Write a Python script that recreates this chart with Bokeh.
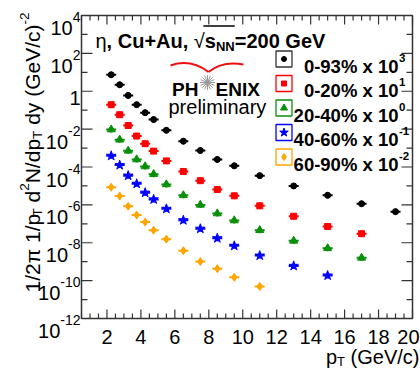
import math
from bokeh.plotting import figure
from bokeh.models import Label, Range1d
from bokeh.embed import file_html
from bokeh.resources import INLINE

# ---------------- data ----------------
pt_0_93 = [2.25, 2.75, 3.25, 3.75, 4.25, 4.75, 5.5, 6.5, 7.5, 8.5, 9.5, 11, 13, 15, 17, 19]
y_0_93 = [7.4, 2.2, 0.60, 0.195, 0.074, 0.032, 8.7e-3, 2.3e-3, 7.4e-4, 2.5e-4,
          1.15e-4, 3.5e-5, 1.0e-5, 3.2e-6, 1.15e-6, 4.4e-7]

pt_0_20 = [2.25, 2.75, 3.25, 3.75, 4.25, 4.75, 5.5, 6.5, 7.5, 8.5, 9.5, 11, 13, 15, 17]
y_0_20 = [0.195, 0.0575, 0.0155, 4.3e-3, 1.7e-3, 6.9e-4, 2.1e-4, 5.8e-5, 1.9e-5,
          6.5e-6, 3.0e-6, 8.9e-7, 2.5e-7, 7.2e-8, 3.0e-8]

pt_20_40 = [2.25, 2.75, 3.25, 3.75, 4.25, 4.75, 5.5, 6.5, 7.5, 8.5, 9.5, 11, 13, 15, 17]
y_20_40 = [9.5e-3, 2.75e-3, 7.2e-4, 2.5e-4, 1.07e-4, 4.2e-5, 1.2e-5, 3.2e-6, 1.0e-6,
           3.5e-7, 1.5e-7, 4.6e-8, 1.26e-8, 5.1e-9, 1.6e-9]

pt_40_60 = [2.25, 2.75, 3.25, 3.75, 4.25, 4.75, 5.5, 6.5, 7.5, 8.5, 9.5, 11, 13, 15]
y_40_60 = [3.9e-4, 1.26e-4, 3.5e-5, 1.3e-5, 4.4e-6, 1.95e-6, 6.2e-7, 1.55e-7, 5.5e-8,
           1.74e-8, 6.9e-9, 2.1e-9, 6.0e-10, 1.86e-10]

pt_60_90 = [2.25, 2.75, 3.25, 3.75, 4.25, 4.75, 5.5, 6.5, 7.5, 8.5, 9.5, 11]
y_60_90 = [8.5e-6, 2.9e-6, 8.5e-7, 2.9e-7, 1.23e-7, 4.6e-8, 1.55e-8, 3.8e-9, 1.02e-9,
           4.3e-10, 1.5e-10, 4.9e-11]

legend_names = ["0-93% x 10", "0-20% x 10", "20-40% x 10", "40-60% x 10", "60-90% x 10"]
legend_exps = ["3", "1", "0", "-1", "-2"]

x_major_ticks = [2, 4, 6, 8, 10, 12, 14, 16, 18, 20]
x_minor_ticks = [0.5 * i for i in range(1, 41) if i % 4 != 0]
y_major_exps = [4, 2, 0, -2, -4, -6, -8, -10, -12]
y_minor_exps = [3, 1, -1, -3, -5, -7, -9, -11]

# ---------------- styling ----------------
series = [
    (pt_0_93, y_0_93, "black", "circle", 6),
    (pt_0_20, y_0_20, "#ff0000", "square", 6),
    (pt_20_40, y_20_40, "#0a8f0a", "triangle", 8),
    (pt_40_60, y_40_60, "#0000ff", "star", 10),
    (pt_60_90, y_60_90, "#ffa500", "diamond", 8),
]
box_colors = ["#333333", "#ff0000", "#0a8f0a", "#0000ff", "#ffa500"]
FONT = "Liberation Sans"
AX = "#333333"

W, H = 420, 368
X0, X1 = 0.5, 20.0          # visible x axis range
E0, E1 = -12, 4             # visible y axis range (log10)
FL, FR, FT, FB = 81.0, 412.0, 15.0, 318.0   # axis box in canvas pixels


def dx(px):
    return X0 + (px - FL) * (X1 - X0) / (FR - FL)


def dy(py):
    return 10 ** (E1 - (py - FT) * (E1 - E0) / (FB - FT))


REG = {' ': 278, '(': 333, ')': 333, '/': 278, '-': 333, 'G': 778, 'N': 722, 'T': 611,
       'V': 667, 'c': 500, 'd': 556, 'e': 556, 'p': 556, 'y': 500, 'π': 560, 'η': 556,
       '√': 549, 'r': 333, 'l': 222, 'i': 222, 'm': 833, 'n': 556, 'a': 556, 'x': 500,
       '%': 889, '=': 584, ',': 278}
BOLD = {' ': 278, ',': 278, 'C': 722, 'u': 611, '+': 584, 'A': 722, 's': 556, 'N': 722,
        '=': 584, 'G': 778, 'e': 556, 'V': 667, '%': 889, 'x': 556, '-': 333, 'P': 667,
        'H': 722, 'E': 667, 'I': 278, 'X': 667}


def tw(text, size, style="normal"):
    tab = BOLD if style == "bold" else REG
    return sum(tab.get(ch, 556) for ch in text) * size / 1000.0


# frame covers the whole canvas so that every text can be drawn without clipping
p = figure(width=W, height=H, x_range=Range1d(dx(0), dx(W)),
           y_range=Range1d(dy(H), dy(0)), y_axis_type="log",
           x_axis_location=None, y_axis_location=None,
           output_backend="svg", toolbar_location=None,
           min_border_left=0, min_border_right=0, min_border_top=0,
           min_border_bottom=0)
p.xgrid.visible = False
p.ygrid.visible = False
p.outline_line_color = None
p.background_fill_color = "white"
p.border_fill_color = "white"

YB, YT = 10.0 ** E0, 10.0 ** E1

# ---------------- axis box and ticks ----------------
p.quad(left=[X0], right=[X1], bottom=[YB], top=[YT], fill_color=None,
       line_color=AX, line_width=1.5)
p.segment(x0=x_major_ticks, y0=[YB] * len(x_major_ticks), x1=x_major_ticks,
          y1=[dy(FB - 9)] * len(x_major_ticks), line_color=AX, line_width=1.2)
p.segment(x0=x_minor_ticks, y0=[YB] * len(x_minor_ticks), x1=x_minor_ticks,
          y1=[dy(FB - 5)] * len(x_minor_ticks), line_color=AX, line_width=1.2)
p.segment(x0=x_major_ticks, y0=[YT] * len(x_major_ticks), x1=x_major_ticks,
          y1=[dy(FT + 9)] * len(x_major_ticks), line_color=AX, line_width=1.2)
p.segment(x0=x_minor_ticks, y0=[YT] * len(x_minor_ticks), x1=x_minor_ticks,
          y1=[dy(FT + 5)] * len(x_minor_ticks), line_color=AX, line_width=1.2)
ymaj = [10.0 ** e for e in y_major_exps]
ymin = [10.0 ** e for e in y_minor_exps]
p.segment(x0=[X0] * len(ymaj), y0=ymaj, x1=[dx(FL + 11)] * len(ymaj), y1=ymaj,
          line_color=AX, line_width=1.2)
p.segment(x0=[X0] * len(ymin), y0=ymin, x1=[dx(FL + 6)] * len(ymin), y1=ymin,
          line_color=AX, line_width=1.2)
p.segment(x0=[X1] * len(ymaj), y0=ymaj, x1=[dx(FR - 11)] * len(ymaj), y1=ymaj,
          line_color=AX, line_width=1.2)
p.segment(x0=[X1] * len(ymin), y0=ymin, x1=[dx(FR - 6)] * len(ymin), y1=ymin,
          line_color=AX, line_width=1.2)

# ---------------- data points ----------------
for xs, ys, c, m, s in series:
    p.scatter(xs, ys, marker="dash", size=10, line_color=c, line_width=2)
    p.scatter(xs, ys, marker="dash", angle=math.pi / 2, size=6, line_color=c, line_width=2)
    p.scatter(xs, ys, marker=m, size=s, fill_color=c, line_color=c)


def lab(px, py, text, size, style="normal", align="left", baseline="alphabetic",
        angle=0.0, color="black", xd=None):
    p.add_layout(Label(x=dx(px) if xd is None else xd, y=dy(py), text=text,
                       text_font=FONT, text_font_size=f"{size}px",
                       text_font_style=style, text_align=align,
                       text_baseline=baseline, angle=angle, text_color=color))


def runs(x, y, pieces, angle=0.0):
    """Place text pieces one after another (SVG drops leading spaces, so
    leading blanks are turned into an advance)."""
    adv = 0.0
    out = []
    for text, size, style, shift in pieces:
        lead = len(text) - len(text.lstrip(" "))
        adv += tw(" " * lead, size, style)
        body = text.lstrip(" ")
        if angle == 0:
            px, py = x + adv, y + shift
        else:
            px, py = x + shift, y - adv
        w = tw(body, size, style)
        lab(px, py, body, size, style, angle=angle)
        out.append((px, py, w))
        adv += w
    return out


def runs_width(pieces):
    return sum(tw(t, s, st) for t, s, st, _ in pieces)


# ---------------- tick labels ----------------
for t in x_major_ticks:
    tx = FL + (t - X0) * (FR - FL) / (X1 - X0)
    half = tw(str(t), 20) / 2
    if tx + half > W - 1:
        lab(W - 1, 336.5, str(t), 20, align="right")
    else:
        lab(0, 336.5, str(t), 20, align="center", xd=t)

for e in y_major_exps:
    ty = FT + (E1 - e) * (FB - FT) / (E1 - E0)
    if e == 0:
        lab(80, ty + 7, "1", 20, align="right")
    else:
        sup = str(e)
        lab(80, ty + 1.5, sup, 14, align="right")
        lab(80 - tw(sup, 14), ty + 12.5, "10", 20, align="right")

# ---------------- axis titles ----------------
yl = [("1/2π 1/p", 21, "normal", 0), ("T", 13.5, "normal", 5),
      (" d", 21, "normal", 0), ("2", 13.5, "normal", -8),
      ("N/dp", 21, "normal", 0), ("T", 13.5, "normal", 5),
      (" dy (GeV/c)", 21, "normal", 0), ("-2", 13.5, "normal", -8)]
runs(32, 12 + runs_width(yl), yl, angle=math.pi / 2)

xl = [("p", 20, "normal", 0), ("T", 13, "normal", 4.5), (" (GeV/c)", 20, "normal", 0)]
runs(min(327.5, 419 - runs_width(xl)), 356, xl)

# ---------------- title ----------------
TB = 40.5
tpos = runs(95, TB, [("η", 20, "normal", 0), (", Cu+Au, ", 20, "bold", 0),
                     ("√", 20, "normal", 0), ("s", 20, "bold", 0),
                     ("NN", 13, "bold", 5), ("=200 GeV", 20, "bold", 0)])
ol_x0 = tpos[2][0] + tpos[2][2] - 1.5
ol_x1 = tpos[4][0] + tpos[4][2]
p.segment(x0=[dx(ol_x0)], y0=[dy(25.5)], x1=[dx(ol_x1)], y1=[dy(25.5)],
          line_color="black", line_width=1.3)

# ---------------- PHENIX logo ----------------
lab(171.5, 88.5, "PH", 19, "bold")
lab(215, 88.5, "ENIX", 19, "bold")
lab(168, 106, "preliminary", 20)
p.scatter([dx(207)], [dy(82)], marker="asterisk", size=15, line_color="#999999", line_width=1)
p.scatter([dx(207)], [dy(82)], marker="asterisk", angle=math.pi / 8, size=15,
          line_color="#999999", line_width=1)
p.quadratic(x0=[dx(170), dx(208)], y0=[dy(65), dy(71.5)],
            x1=[dx(208), dx(243)], y1=[dy(71.5), dy(64)],
            cx=[dx(190), dx(222)], cy=[dy(58), dy(60)],
            line_color="#ee1111", line_width=2)

# ---------------- legend ----------------
rows = [58.5, 83, 107.5, 132, 156.5]
for i, yc in enumerate(rows):
    xs_, ys_, c, m, s = series[i]
    p.scatter([dx(283.5)], [dy(yc)], marker="square", size=16, fill_color="white",
              line_color=box_colors[i], line_width=1.3)
    p.scatter([dx(283.5)], [dy(yc)], marker=m, size=max(s - 1, 5), fill_color=c, line_color=c)
    lab(398, yc + 7, legend_names[i], 18.5, "bold", align="right")
    lab(398.5, yc - 1.5, legend_exps[i], 11.5, "bold")

open("out.html", "w").write(file_html(p, INLINE))
